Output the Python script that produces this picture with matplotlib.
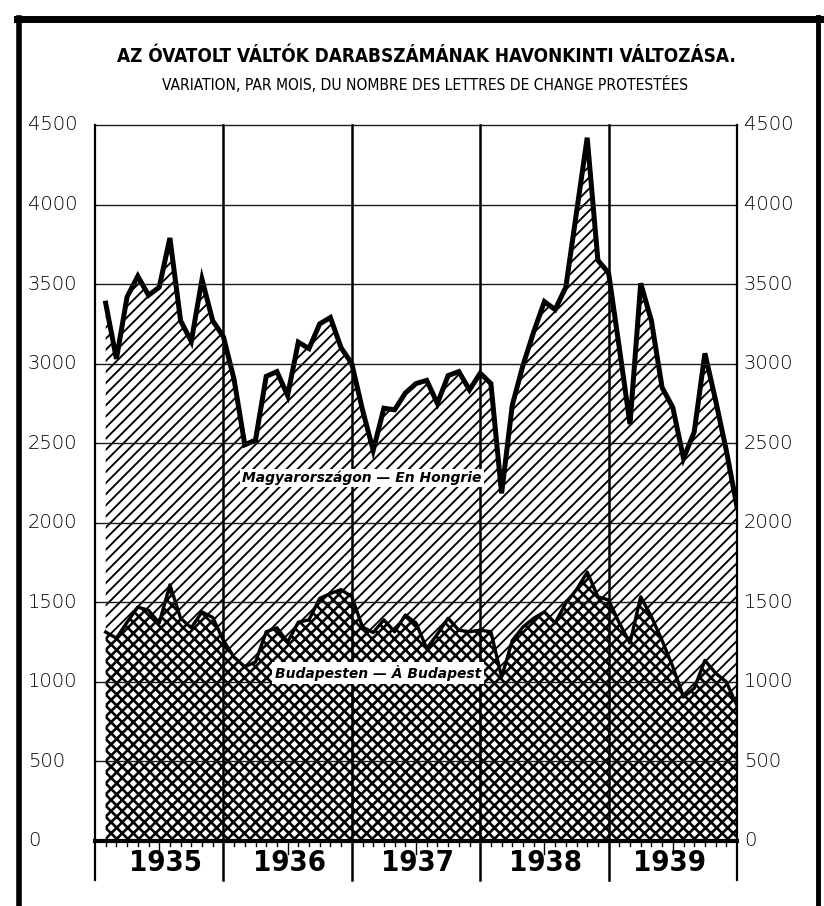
import matplotlib
matplotlib.use("Agg")
import matplotlib.pyplot as plt
from matplotlib import font_manager
import numpy as np

# ---- data ----
years = ["1935", "1936", "1937", "1938", "1939"]
hungary = [3380, 3030, 3420, 3550, 3430, 3480, 3790, 3270, 3140, 3530, 3270, 3170,
           2900, 2490, 2520, 2920, 2950, 2800, 3135, 3095, 3250, 3290, 3100, 3000,
           2710, 2455, 2720, 2710, 2815, 2875, 2895, 2750, 2925, 2950, 2835, 2940,
           2875, 2185, 2740, 2990, 3200, 3390, 3340, 3480, 3950, 4420, 3650, 3570,
           3100, 2620, 3505, 3270, 2850, 2725, 2405, 2570, 3065, 2770, 2455, 2100]
budapest = [1313, 1275, 1375, 1470, 1450, 1370, 1610, 1400, 1340, 1440, 1405, 1260,
            1155, 1095, 1125, 1315, 1340, 1250, 1375, 1390, 1525, 1555, 1580, 1535,
            1345, 1310, 1390, 1315, 1420, 1370, 1210, 1300, 1400, 1325, 1315, 1325,
            1315, 1030, 1260, 1345, 1400, 1440, 1370, 1495, 1580, 1690, 1535, 1515,
            1370, 1245, 1535, 1410, 1260, 1095, 905, 960, 1135, 1055, 1000, 850]
yticks = [0, 500, 1000, 1500, 2000, 2500, 3000, 3500, 4000, 4500]
title = "AZ ÓVATOLT VÁLTÓK DARABSZÁMÁNAK HAVONKINTI VÁLTOZÁSA."
subtitle = "VARIATION, PAR MOIS, DU NOMBRE DES LETTRES DE CHANGE PROTESTÉES"
label_hu = "Magyarországon — En Hongrie"
label_bp = "Budapesten — À Budapest"

W, H = 824, 906

# pick a condensed font if one is installed
cond_file_bold = None
cond_file_reg = None
for f in font_manager.fontManager.ttflist:
    fn = f.fname.lower()
    if ("condensed" in fn or "narrow" in fn) and "oblique" not in fn and "italic" not in fn:
        if "bold" in fn and cond_file_bold is None:
            cond_file_bold = f
        if "bold" not in fn and "light" not in fn and cond_file_reg is None:
            cond_file_reg = f


def cond_props(bold, size):
    ff = cond_file_bold if bold else cond_file_reg
    if ff is not None:
        return dict(family=ff.name, fontstretch=ff.stretch, fontweight=ff.weight,
                    fontsize=size)
    return dict(family="DejaVu Sans", fontweight="bold" if bold else "normal",
                fontsize=size * 0.85)


plt.rcParams['hatch.linewidth'] = 1.3

fig = plt.figure(figsize=(W / 100, H / 100), dpi=100)
fig.patch.set_facecolor("white")

L, R, T, B = 95, 737, 125, 841
ax = fig.add_axes([L / W, 1 - B / H, (R - L) / W, (B - T) / H])
ax.set_xlim(0, 60)
ax.set_ylim(0, 4500)
ax.axis("off")

x = np.arange(1, len(hungary) + 1)
px_per_unit = (B - T) / 4500.0

# areas
hu_fill = ax.fill_between(x, 0, hungary, facecolor="white", edgecolor="black",
                          hatch="///", linewidth=0, zorder=1)
try:
    hu_fill.set_hatch_linewidth(1.35)
except Exception:
    pass
ax.plot(x, hungary, color="black", lw=3.6, solid_joinstyle="miter", zorder=4)
bp_fill = ax.fill_between(x, 0, budapest, facecolor="white", edgecolor="black",
                          hatch="xxx", linewidth=0, zorder=2)
try:
    bp_fill.set_hatch_linewidth(1.9)
except Exception:
    pass
ax.plot(x, budapest, color="black", lw=2.4, zorder=4)

# horizontal grid
for v in yticks[1:]:
    ax.plot([0, 60], [v, v], color="#1a1a1a", lw=1.0, zorder=5, clip_on=False)

# vertical year lines (extend below axis)
ext = -39 / px_per_unit
for k in range(0, 6):
    ax.plot([k * 12, k * 12], [4500, ext], color="black",
            lw=1.8 if 0 < k < 5 else 1.6, zorder=6, clip_on=False)

# baseline
ax.plot([0, 60], [0, 0], color="black", lw=3.0, zorder=7, clip_on=False)
# month ticks
for i in range(1, 60):
    if i % 12 == 0:
        continue
    ln = 13 if i % 12 == 6 else 5
    ax.plot([i, i], [0, -ln / px_per_unit], color="black", lw=1.0, zorder=7, clip_on=False)

# y tick labels
for v in yticks:
    yy = B - v * px_per_unit
    fig.text(28 / W, 1 - yy / H, str(v), ha="left", va="center", fontsize=14,
             family="DejaVu Sans", fontweight="light", color="black")
    fig.text(744 / W, 1 - yy / H, str(v), ha="left", va="center", fontsize=14,
             family="DejaVu Sans", fontweight="light", color="black")

# year labels
year_x = [165, 290, 418, 545, 670]
for k, yr in enumerate(years):
    fig.text(year_x[k] / W, 1 - 863 / H, yr, ha="center", va="center",
             **cond_props(True, 21))

# series labels
fig.text(362 / W, 1 - 478 / H, label_hu, ha="center", va="center", fontsize=10,
         family="DejaVu Sans", style="italic", fontweight="bold", zorder=10,
         bbox=dict(facecolor="white", edgecolor="none", pad=1.5))
fig.text(378 / W, 1 - 673 / H, label_bp, ha="center", va="center", fontsize=10,
         family="DejaVu Sans", style="italic", fontweight="bold", zorder=10,
         bbox=dict(facecolor="white", edgecolor="none", pad=2.0))

# titles
tprops = cond_props(True, 13.6)
if cond_file_bold is None:
    tprops["fontsize"] = 12
fig.text(426 / W, 1 - 57 / H, title, ha="center", va="center", **tprops)
sprops = cond_props(False, 11.2)
if cond_file_reg is None:
    sprops["fontsize"] = 9.5
fig.text(425 / W, 1 - 84 / H, subtitle, ha="center", va="center", **sprops)

# outer frame
fa = fig.add_axes([0, 0, 1, 1], zorder=-1)
fa.set_xlim(0, W)
fa.set_ylim(H, 0)
fa.axis("off")
fa.plot([19, 19], [18, H], color="black", lw=4)
fa.plot([17, 820], [19, 19], color="black", lw=5)
fa.plot([818, 818], [17, H], color="black", lw=3.5)

fig.savefig("out.png", dpi=100, facecolor="white")
